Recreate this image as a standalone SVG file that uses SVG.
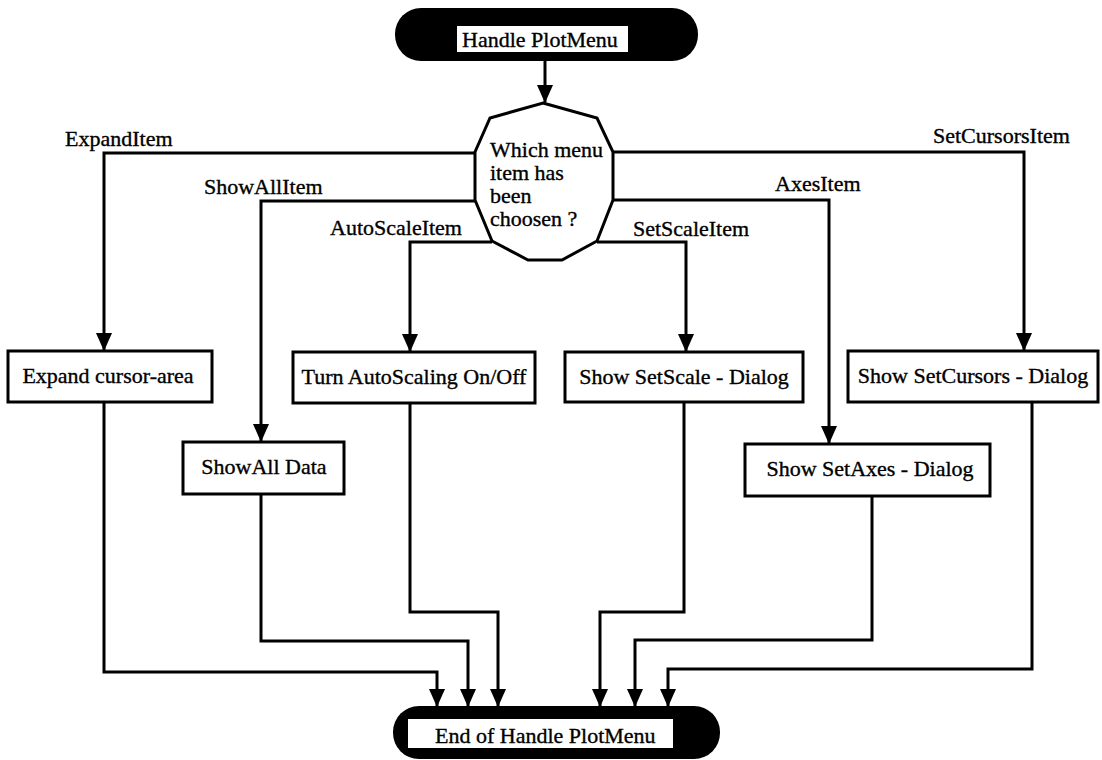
<svg xmlns="http://www.w3.org/2000/svg" width="1102" height="760" viewBox="0 0 1102 760">
  <style>
    text { font-family: "Liberation Serif", "Times New Roman", serif; font-size: 22px; fill: #000; stroke: #000; stroke-width: 0.35; }
    .box { fill: #fff; stroke: #000; stroke-width: 3; }
    .term { fill: #000; }
    .label-bg { fill: #fff; }
    .wire { fill: none; stroke: #000; stroke-width: 3; stroke-linejoin: miter; }
    .mid { text-anchor: middle; }
  </style>
  <defs>
    <!-- filled arrowhead, tip at the end of the path -->
    <marker id="arrow" viewBox="0 0 18 16" markerWidth="18" markerHeight="16" refX="17" refY="8" orient="auto" markerUnits="userSpaceOnUse">
      <path d="M0,0 L18,8 L0,16 Z" fill="#000"/>
    </marker>
  </defs>

  <!-- start terminator -->
  <g id="start">
    <rect class="term" x="395" y="8" width="303" height="53" rx="26" ry="26"/>
    <rect class="label-bg" x="457" y="26" width="171" height="26"/>
    <text x="462" y="47">Handle PlotMenu</text>
  </g>

  <!-- decision -->
  <g id="decision">
    <polygon class="box" points="543,103 597,118 613,152 613,200 597,241 562,260 528,260 492,241 475,200 475,152 490,118"/>
    <text x="490" y="157">Which menu</text>
    <text x="490" y="180">item has</text>
    <text x="490" y="203">been</text>
    <text x="490" y="226">choosen ?</text>
  </g>

  <!-- action boxes -->
  <g id="expand">
    <rect class="box" x="8" y="351" width="204" height="51"/>
    <text class="mid" x="108" y="383">Expand cursor-area</text>
  </g>
  <g id="showall">
    <rect class="box" x="183" y="442" width="161" height="52"/>
    <text class="mid" x="264" y="474">ShowAll Data</text>
  </g>
  <g id="autoscale">
    <rect class="box" x="293" y="352" width="242" height="51"/>
    <text class="mid" x="414" y="384">Turn AutoScaling On/Off</text>
  </g>
  <g id="setscale">
    <rect class="box" x="565" y="352" width="238" height="50"/>
    <text class="mid" x="684" y="384">Show SetScale - Dialog</text>
  </g>
  <g id="setaxes">
    <rect class="box" x="745" y="444" width="245" height="52"/>
    <text class="mid" x="870" y="476">Show SetAxes - Dialog</text>
  </g>
  <g id="setcursors">
    <rect class="box" x="848" y="351" width="250" height="51"/>
    <text class="mid" x="973" y="383">Show SetCursors - Dialog</text>
  </g>

  <!-- end terminator -->
  <g id="end">
    <rect class="term" x="393" y="706" width="327" height="53" rx="26" ry="26"/>
    <rect class="label-bg" x="408" y="719" width="265" height="29"/>
    <text x="435" y="743">End of Handle PlotMenu</text>
  </g>

  <!-- connectors -->
  <g id="connectors">
    <path class="wire" d="M545,61 V102" marker-end="url(#arrow)"/>

    <path class="wire" d="M475,153 H104 V350" marker-end="url(#arrow)"/>
    <path class="wire" d="M475,201 H261 V441" marker-end="url(#arrow)"/>
    <path class="wire" d="M492,242 H410 V351" marker-end="url(#arrow)"/>
    <path class="wire" d="M597,242 H686 V351" marker-end="url(#arrow)"/>
    <path class="wire" d="M613,200 H829 V443" marker-end="url(#arrow)"/>
    <path class="wire" d="M613,152 H1024 V350" marker-end="url(#arrow)"/>

    <path class="wire" d="M104,402 V672 H437 V706" marker-end="url(#arrow)"/>
    <path class="wire" d="M261,494 V641 H468 V706" marker-end="url(#arrow)"/>
    <path class="wire" d="M410,403 V612 H498 V706" marker-end="url(#arrow)"/>
    <path class="wire" d="M684,402 V612 H600 V706" marker-end="url(#arrow)"/>
    <path class="wire" d="M872,496 V640 H635 V706" marker-end="url(#arrow)"/>
    <path class="wire" d="M1032,402 V669 H668 V706" marker-end="url(#arrow)"/>
  </g>

  <!-- branch labels -->
  <g id="branch-labels">
    <text x="65" y="146">ExpandItem</text>
    <text x="204" y="194">ShowAllItem</text>
    <text x="330" y="235">AutoScaleItem</text>
    <text x="633" y="236">SetScaleItem</text>
    <text x="775" y="191">AxesItem</text>
    <text x="933" y="143">SetCursorsItem</text>
  </g>
</svg>
